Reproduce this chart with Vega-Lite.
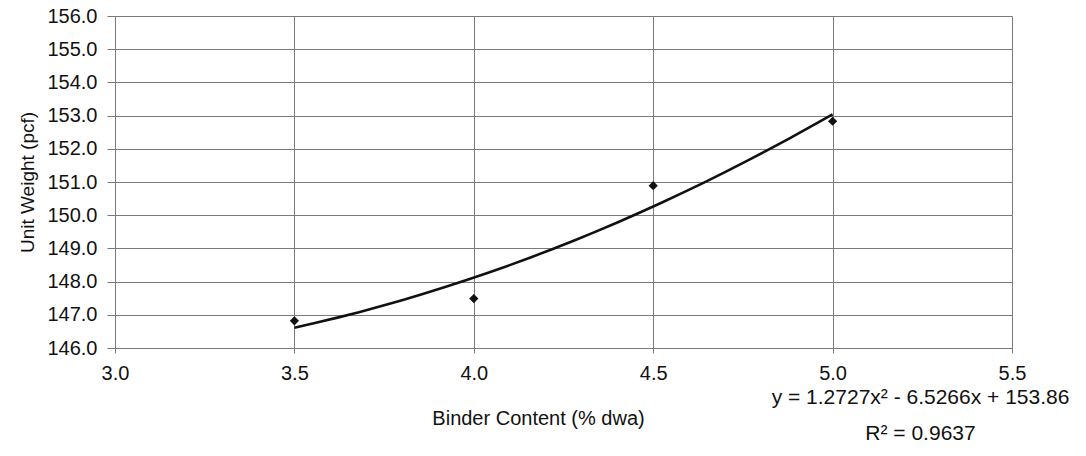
{
  "$schema": "https://vega.github.io/schema/vega-lite/v6.json",
  "width": 897,
  "height": 332,
  "autosize": {"type": "none"},
  "padding": {"left": 115, "top": 16, "right": 74, "bottom": 108},
  "background": "white",
  "config": {
    "font": "Liberation Sans",
    "view": {"stroke": null},
    "axis": {
      "gridColor": "#7a7a7a",
      "gridOpacity": 1,
      "gridWidth": 1,
      "domainColor": "#7a7a7a",
      "domainWidth": 1,
      "tickColor": "#7a7a7a",
      "labelColor": "#111111",
      "titleColor": "#111111",
      "labelFont": "Liberation Sans",
      "titleFont": "Liberation Sans",
      "titleFontWeight": "normal",
      "labelOverlap": false
    }
  },
  "data": {
    "values": [
      {"binder": 3.5, "weight": 146.82},
      {"binder": 4.0, "weight": 147.49},
      {"binder": 4.5, "weight": 150.89},
      {"binder": 5.0, "weight": 152.83}
    ]
  },
  "layer": [
    {
      "transform": [
        {"regression": "weight", "on": "binder", "method": "poly", "order": 2}
      ],
      "mark": {"type": "line", "color": "#111111", "strokeWidth": 2.6},
      "encoding": {
        "x": {
          "field": "binder",
          "type": "quantitative",
          "scale": {"domain": [3, 5.5], "nice": false, "zero": false},
          "axis": {
            "title": "Binder Content (% dwa)",
            "values": [3, 3.5, 4, 4.5, 5, 5.5],
            "tickCount": 20,
            "format": ".1f",
            "grid": true,
            "tickSize": 5,
            "labelFontSize": 20,
            "labelPadding": 10,
            "labelFlush": false,
            "labelOverlap": false,
            "titleFontSize": 20,
            "titleBaseline": "alphabetic",
            "titleAlign": "center",
            "titleX": 423,
            "titleY": 76
          }
        },
        "y": {
          "field": "weight",
          "type": "quantitative",
          "scale": {"domain": [146, 156], "nice": false, "zero": false},
          "axis": {
            "title": "Unit Weight (pcf)",
            "values": [146, 147, 148, 149, 150, 151, 152, 153, 154, 155, 156],
            "tickCount": 20,
            "format": ".1f",
            "grid": true,
            "tickSize": 8,
            "labelFontSize": 20,
            "labelPadding": 10,
            "labelFlush": false,
            "labelOverlap": false,
            "titleFontSize": 19,
            "titleBaseline": "alphabetic",
            "titleX": -82,
            "titleY": 166
          }
        }
      }
    },
    {
      "mark": {"type": "point", "shape": "diamond", "filled": true, "color": "#111111", "opacity": 1, "size": 85},
      "encoding": {
        "x": {"field": "binder", "type": "quantitative"},
        "y": {"field": "weight", "type": "quantitative"}
      }
    },
    {
      "data": {"values": [{"label": "equation"}]},
      "mark": {
        "type": "text",
        "align": "center",
        "baseline": "alphabetic",
        "fontSize": 21,
        "lineHeight": 36,
        "color": "#111111",
        "font": "Liberation Sans"
      },
      "encoding": {
        "x": {"datum": 5.245, "type": "quantitative"},
        "y": {"datum": 144.3, "type": "quantitative"},
        "text": {"value": ["y = 1.2727x² - 6.5266x + 153.86", "R² = 0.9637"]}
      }
    }
  ]
}
